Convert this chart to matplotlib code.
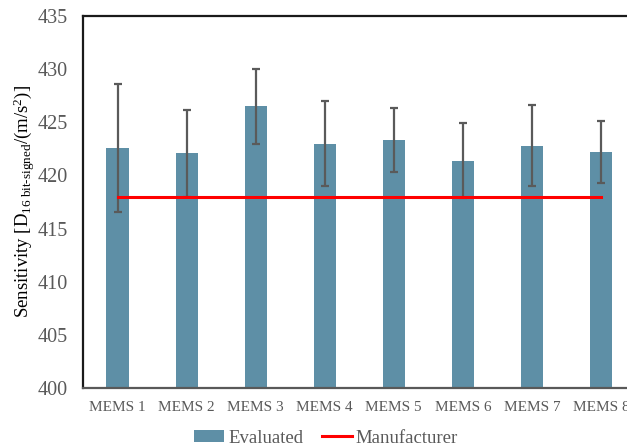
import matplotlib
matplotlib.use("Agg")
import matplotlib.pyplot as plt
from matplotlib.lines import Line2D
from matplotlib.patches import Patch
import numpy as np

categories = ["MEMS 1", "MEMS 2", "MEMS 3", "MEMS 4", "MEMS 5", "MEMS 6", "MEMS 7", "MEMS 8"]
evaluated = [422.6, 422.1, 426.5, 423.0, 423.3, 421.4, 422.8, 422.2]
errors = [6.0, 4.1, 3.5, 4.0, 3.0, 3.5, 3.8, 2.9]
manufacturer = [418.0] * 8
yticks = [400, 405, 410, 415, 420, 425, 430, 435]

plt.rcParams['font.family'] = ['Liberation Serif', 'DejaVu Serif']
plt.rcParams['mathtext.fontset'] = 'custom'
plt.rcParams['mathtext.rm'] = 'Liberation Serif'
plt.rcParams['mathtext.it'] = 'Liberation Serif:italic'

fig = plt.figure(figsize=(6.27, 4.48), dpi=100)
ax = fig.add_axes([83/627, 60/448, 552.5/627, 372/448])

x = np.arange(len(categories))
bar_color = "#5E8FA6"
ax.bar(x, evaluated, width=0.32, color=bar_color, zorder=2)
ax.errorbar(x, evaluated, yerr=errors, fmt='none', ecolor='#5a5a5a',
            elinewidth=1.6, capsize=3, capthick=1.6, zorder=3)
ax.plot(x, manufacturer, color='#ff0000', linewidth=2.2, zorder=4)

ax.set_xlim(-0.5, len(categories) - 0.5)
ax.set_ylim(400, 435)
ax.set_yticks(yticks)
ax.set_xticks(x)
ax.set_xticklabels(categories, fontsize=11, color='#595959')
ax.tick_params(axis='y', labelsize=14.5, colors='#595959', length=0, pad=11)
ax.tick_params(axis='x', length=0, pad=9)

for side in ['left', 'top']:
    ax.spines[side].set_color('#1a1a1a')
    ax.spines[side].set_linewidth(1.6)
ax.spines['bottom'].set_color('#595959')
ax.spines['bottom'].set_linewidth(1.6)
ax.spines['right'].set_visible(False)

ax.set_ylabel(r"Sensitivity [D$_{\mathrm{16\ bit\text{-}signed}}$/(m/s$^{\mathrm{2}}$)]",
              fontsize=13.5, color='black')
ax.yaxis.set_label_coords(-0.083, 0.5)

handles = [Patch(facecolor=bar_color, label='Evaluated'),
           Line2D([0], [0], color='#ff0000', linewidth=2.2, label='Manufacturer')]
fig.legend(handles=handles, loc='center', bbox_to_anchor=(326/627, 1 - 438/448),
           ncol=2, frameon=False, fontsize=13.5, labelcolor='#595959',
           handlelength=1.6, handletextpad=0.2, columnspacing=1.0, handleheight=0.55)

fig.savefig("out.png", dpi=100)
